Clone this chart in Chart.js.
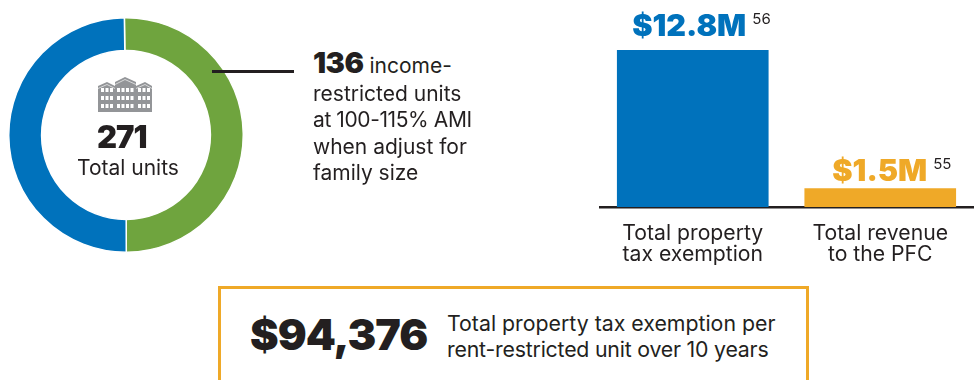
<!DOCTYPE html>
<html>
<head>
<meta charset="utf-8">
<title>Property tax exemption</title>
<script src="https://cdn.jsdelivr.net/npm/chart.js@4/dist/chart.umd.min.js"></script>
<style>
    html, body { margin: 0; padding: 0; background: #fff; }
    body { width: 974px; height: 380px; position: relative; overflow: hidden; font-family: Inter, sans-serif; font-size: 21px; color: #231f20; }
    .abs { position: absolute; white-space: nowrap; line-height: 1; }
    .heavy { font-weight: 900; }
    #donut-wrap { position: absolute; left: 8px; top: 17px; width: 236px; height: 236px; }
    #bar-wrap { position: absolute; left: 599px; top: 0; width: 375px; height: 280px; }
    #leader { position: absolute; left: 212px; top: 70px; width: 82px; height: 2.5px; background: #231f20; }
    #box { position: absolute; left: 218px; top: 286px; width: 585px; height: 120px; border: 3px solid #efa928; }
</style>
</head>
<body>
<div id="donut-wrap"><canvas id="donut-chart"></canvas></div>
<div id="bar-wrap"><canvas id="bar-chart"></canvas></div>
<div id="leader"></div>

<!-- icon toa nha -->
<svg class="abs" style="left:98px;top:76px" width="54" height="36" viewBox="0 0 54 36">
    <path fill="#939598" d="M0 36V10L9 6l8 4V6L27 1l11 5v4l9-4 7 4v26z"/>
    <path fill="none" stroke="#fff" stroke-width="0.8" opacity="0.8" d="M0 12.5L9 8.5l8 4M17 8.5L27 3.5l11 5M38 12.5l9-4 7 4"/>
    <g fill="#fff" id="windows"></g>
</svg>

<div class="abs heavy" style="left:97px;top:121px;font-size:31px;letter-spacing:-1px">271</div>
<div class="abs" style="left:77px;top:157px">Total units</div>

<div class="abs" style="left:313px;top:48px"><span class="heavy" style="font-size:29px;letter-spacing:-0.5px">136</span> income-</div>
<div class="abs" style="left:313px;top:83px">restricted units</div>
<div class="abs" style="left:313px;top:109px;letter-spacing:-0.4px">at 100-115% AMI</div>
<div class="abs" style="left:313px;top:136px">when adjust for</div>
<div class="abs" style="left:313px;top:162px">family size</div>

<div id="box"></div>
<div class="abs heavy" style="left:250px;top:313px;font-size:43px;letter-spacing:-1px">$94,376</div>
<div class="abs" style="left:447px;top:313px;font-size:21.3px">Total property tax exemption per</div>
<div class="abs" style="left:447px;top:339px;font-size:21.3px;letter-spacing:-0.2px">rent-restricted unit over 10 years</div>

<script>
// Du lieu doc tu hinh
const unitLabels = ['Income-restricted units', 'Other units'];
const unitValues = [136, 135];
const unitColors = ['#6fa43e', '#0072bc'];

const barLabels = [['Total property', 'tax exemption'], ['Total revenue', 'to the PFC']];
const barValues = [12.8, 1.5];
const barTexts = ['$12.8M', '$1.5M'];
const barNotes = ['56', '55'];
const barColors = ['#0072bc', '#efa928'];

const FONT = 'Inter, sans-serif';
const INK = '#231f20';

// cua so icon
const win = document.getElementById('windows');
[3, 7.5, 12, 19, 23.5, 28, 32.5, 40, 44.5, 49].forEach(x => {
    [12, 20, 28].forEach(y => {
        const r = document.createElementNS('http://www.w3.org/2000/svg', 'rect');
        r.setAttribute('x', x);
        r.setAttribute('y', y);
        r.setAttribute('width', 3);
        r.setAttribute('height', 4);
        win.appendChild(r);
    });
});

new Chart(document.getElementById('donut-chart'), {
    type: 'doughnut',
    data: {
        labels: unitLabels,
        datasets: [{
            data: unitValues,
            backgroundColor: unitColors,
            borderColor: '#fff',
            borderWidth: 1.5
        }]
    },
    options: {
        responsive: true,
        maintainAspectRatio: false,
        animation: false,
        rotation: -0.8,
        cutout: '72%',
        plugins: { legend: { display: false }, tooltip: { enabled: false } }
    }
});

// Ve nhan gia tri va so chu thich tren moi cot
const barValueLabels = {
    id: 'barValueLabels',
    afterDatasetsDraw(chart) {
        const ctx = chart.ctx;
        const gaps = [14, 8];
        const shifts = [-3.5, -0.5];
        chart.getDatasetMeta(0).data.forEach((bar, i) => {
            const x = bar.x + shifts[i];
            const y = bar.y - gaps[i];
            ctx.save();
            ctx.textBaseline = 'alphabetic';
            ctx.font = `900 30.5px ${FONT}`;
            ctx.fillStyle = barColors[i];
            ctx.textAlign = 'center';
            ctx.fillText(barTexts[i], x, y);
            const w = ctx.measureText(barTexts[i]).width;
            ctx.font = `400 15px ${FONT}`;
            ctx.fillStyle = INK;
            ctx.textAlign = 'left';
            ctx.fillText(barNotes[i], x + w / 2 + 6, y - 12);
            ctx.restore();
        });
    }
};

new Chart(document.getElementById('bar-chart'), {
    type: 'bar',
    data: {
        labels: barLabels,
        datasets: [{
            data: barValues,
            backgroundColor: barColors,
            barThickness: 151
        }]
    },
    options: {
        responsive: true,
        maintainAspectRatio: false,
        animation: false,
        layout: { padding: 0 },
        plugins: { legend: { display: false }, tooltip: { enabled: false } },
        scales: {
            x: {
                afterFit(scale) { scale.height = 73; },
                grid: { display: false },
                border: { color: INK, width: 2.5 },
                ticks: {
                    color: INK,
                    font: { family: FONT, size: 21.2, lineHeight: 1.0 },
                    padding: 8,
                    maxRotation: 0,
                    autoSkip: false
                }
            },
            y: { display: false, min: 0, max: 16.9 }
        }
    },
    plugins: [barValueLabels]
});
</script>
</body>
</html>
